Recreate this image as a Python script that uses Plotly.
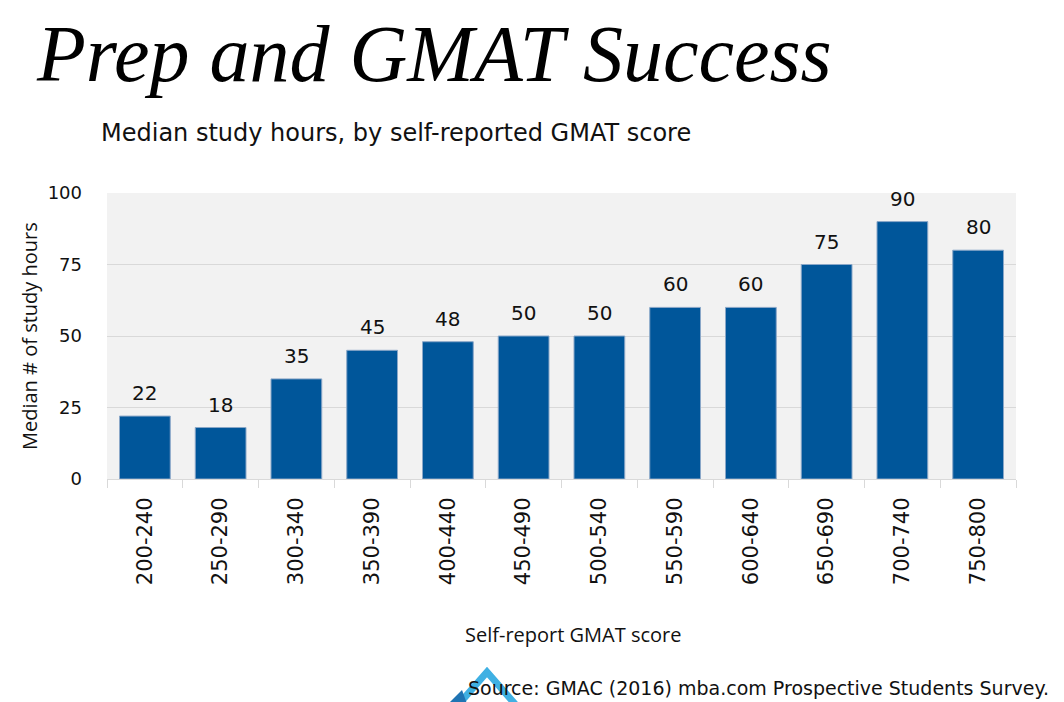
import plotly.graph_objects as go

categories = ["200-240", "250-290", "300-340", "350-390", "400-440", "450-490",
              "500-540", "550-590", "600-640", "650-690", "700-740", "750-800"]
hours = [22, 18, 35, 45, 48, 50, 50, 60, 60, 75, 90, 80]
y_ticks = [0, 25, 50, 75, 100]

# page body has an 8px margin; work in target-pixel coordinates and offset
OFF = 8
W, H = 1064 - OFF, 702 - OFF
L, R, T, B = 107 - OFF, 48, 193 - OFF, 702 - 479
PW, PH = W - L - R, H - T - B


def px(x):
    return (x - OFF - L) / PW


def py(y):
    return (H - B - (y - OFF)) / PH


fig = go.Figure()
fig.add_trace(go.Bar(
    x=categories, y=hours,
    marker=dict(color="#00569a", line=dict(color="#8aa7c8", width=1)),
    width=0.67, hoverinfo="x+y",
))

label_font = dict(family="DejaVu Sans, Verdana, sans-serif", size=20, color="#111111")
annotations = [
    dict(x=c, y=v, xref="x", yref="y", text=str(v), showarrow=False,
         yanchor="bottom", yshift=9, font=label_font)
    for c, v in zip(categories, hours)
]

annotations += [
    dict(text="Prep and GMAT Success", xref="paper", yref="paper",
         x=px(34), y=py(OFF), xanchor="left", yanchor="top", showarrow=False,
         font=dict(family="Liberation Serif, DejaVu Serif, serif", size=80,
                   color="#000000", style="italic")),
    dict(text="Median study hours, by self-reported GMAT score", xref="paper", yref="paper",
         x=px(99), y=py(133), xanchor="left", yanchor="middle", showarrow=False,
         font=dict(family="DejaVu Sans, Verdana, sans-serif", size=24, color="#111111")),
    dict(text="Median # of study hours", xref="paper", yref="paper",
         x=px(29), y=py(336), xanchor="center", yanchor="middle", showarrow=False,
         textangle=-90,
         font=dict(family="Open Sans, sans-serif", size=20, color="#111111")),
    dict(text="Self-report GMAT score", xref="paper", yref="paper",
         x=px(573), y=py(634), xanchor="center", yanchor="middle", showarrow=False,
         font=dict(family="Open Sans, sans-serif", size=20, color="#111111")),
    dict(text="Source: GMAC (2016) mba.com Prospective Students Survey.", xref="paper", yref="paper",
         x=px(466), y=py(688), xanchor="left", yanchor="middle", showarrow=False,
         font=dict(family="DejaVu Sans, Verdana, sans-serif", size=19, color="#111111")),
]

fig.update_layout(
    width=W, height=H,
    margin=dict(l=L, r=R, t=T, b=B, pad=0),
    paper_bgcolor="white", plot_bgcolor="#f2f2f2",
    showlegend=False,
    xaxis=dict(
        type="category", tickangle=-90, tickson="boundaries",
        ticks="outside", ticklen=8, tickcolor="#d9d9d9",
        showline=True, linecolor="#d9d9d9", linewidth=1,
        showgrid=False, ticklabelstandoff=9,
        tickfont=dict(family="DejaVu Sans, Verdana, sans-serif", size=21, color="#111111"),
    ),
    yaxis=dict(
        range=[0, 100], tickvals=y_ticks, ticktext=[str(v) for v in y_ticks],
        showgrid=True, gridcolor="#d9d9d9", gridwidth=1, zeroline=False,
        showline=False, ticks="", ticklabelstandoff=24,
        tickfont=dict(family="DejaVu Sans, Verdana, sans-serif", size=18, color="#111111"),
    ),
    shapes=[
        dict(type="path", xref="paper", yref="paper",
             path=f"M {px(452)} {py(712)} L {px(487)} {py(672)} L {px(522)} {py(712)}",
             line=dict(color="#3fb0e3", width=7), layer="below"),
        dict(type="path", xref="paper", yref="paper",
             path=f"M {px(440)} {py(712)} L {px(462)} {py(690)} L {px(470)} {py(712)} Z",
             fillcolor="#1f74b3", line=dict(width=0), layer="below"),
    ],
    annotations=annotations,
)

fig.write_html("out.html")
